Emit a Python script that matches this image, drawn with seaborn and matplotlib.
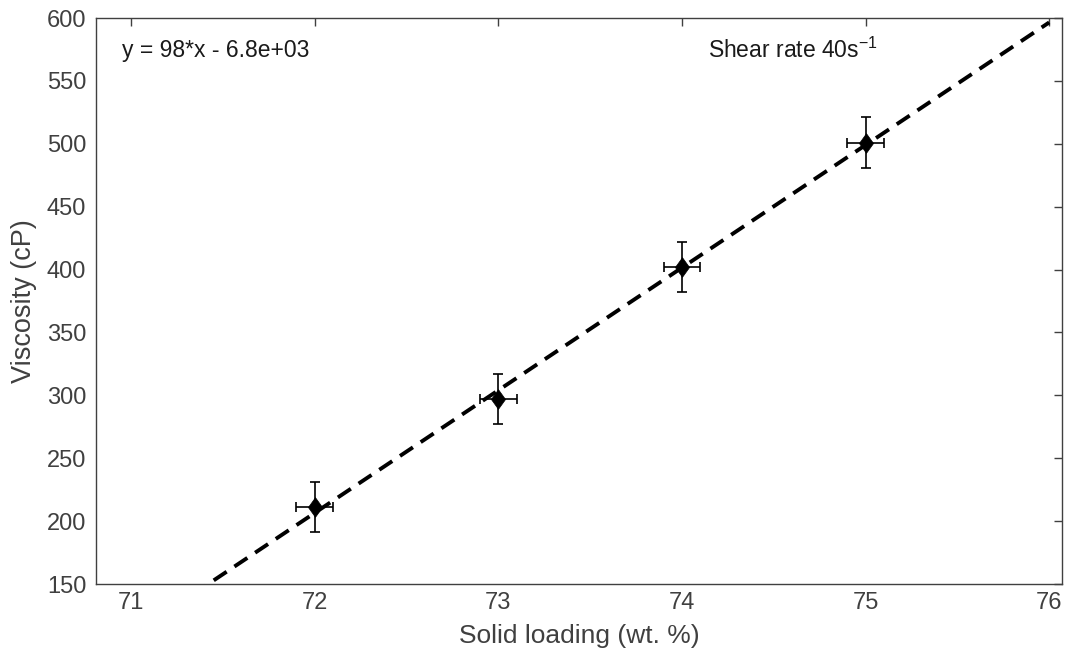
import numpy as np
import pandas as pd
import matplotlib
matplotlib.use("Agg")
import matplotlib.pyplot as plt
import seaborn as sns

# Measured viscosity vs. solid loading at a shear rate of 40 1/s
solid_loading = [72, 73, 74, 75]
viscosity = [211, 297, 402, 501]
visc_err = [20, 20, 20, 20]
loading_err = [0.1, 0.1, 0.1, 0.1]

x_ticks = [71, 72, 73, 74, 75, 76]
y_ticks = [150, 200, 250, 300, 350, 400, 450, 500, 550, 600]

sns.set_theme(style="white")
plt.rcParams["font.family"] = ["Liberation Sans", "DejaVu Sans"]

df = pd.DataFrame({"loading": solid_loading, "viscosity": viscosity})

fig = plt.figure(figsize=(10.79, 6.57), dpi=100)
ax = fig.add_axes([0.089, 0.111, 0.8953, 0.8616])

# Linear fit of viscosity against loading
slope, intercept = np.polyfit(solid_loading, viscosity, 1)
fit_x = np.linspace(71, 76, 200)
fit_df = pd.DataFrame({"loading": fit_x, "viscosity": slope * fit_x + intercept})
sns.lineplot(data=fit_df, x="loading", y="viscosity", ax=ax, color="black",
             linestyle=(0, (4, 2.4)), linewidth=2.8, zorder=2)

ax.errorbar(solid_loading, viscosity, yerr=visc_err, xerr=loading_err,
            fmt="none", ecolor="black", elinewidth=1.2, capsize=3.8, capthick=1.2,
            zorder=3)

# Slightly tall diamond marker
diamond = [(0, 1), (0.72, 0), (0, -1), (-0.72, 0), (0, 1)]
sns.scatterplot(data=df, x="loading", y="viscosity", ax=ax, marker=diamond,
                s=200, color="black", edgecolor="black", linewidth=0.5, zorder=4)

ax.set_xlim(70.81, 76.07)
ax.set_ylim(150, 600)
ax.set_xticks(x_ticks)
ax.set_yticks(y_ticks)
ax.set_xticklabels([str(t) for t in x_ticks], fontsize=17)
ax.set_yticklabels([str(t) for t in y_ticks], fontsize=17)

grey = "#404040"
ax.set_xlabel("Solid loading (wt. %)", fontsize=19, color=grey, labelpad=7)
ax.set_ylabel("Viscosity (cP)", fontsize=19.5, color=grey, labelpad=7)
ax.tick_params(axis="both", which="both", direction="in", length=6, width=1,
               colors=grey, top=True, right=True, labelcolor=grey, pad=7)
ax.tick_params(axis="x", pad=6)
for side in ax.spines.values():
    side.set_color(grey)
    side.set_linewidth(1.0)
    side.set_visible(True)

sign = "-" if intercept < 0 else "+"
eq = f"y = {slope:.2g}*x {sign} {abs(intercept):.1e}"
ax.text(70.95, 574, eq, fontsize=16.5, color="#1a1a1a", va="center", ha="left")
ax.text(74.14, 574, r"Shear rate 40s$^{\mathregular{-1}}$", fontsize=16.5,
        color="#1a1a1a", va="center", ha="left")

fig.savefig("out.png", dpi=100, facecolor="white")
